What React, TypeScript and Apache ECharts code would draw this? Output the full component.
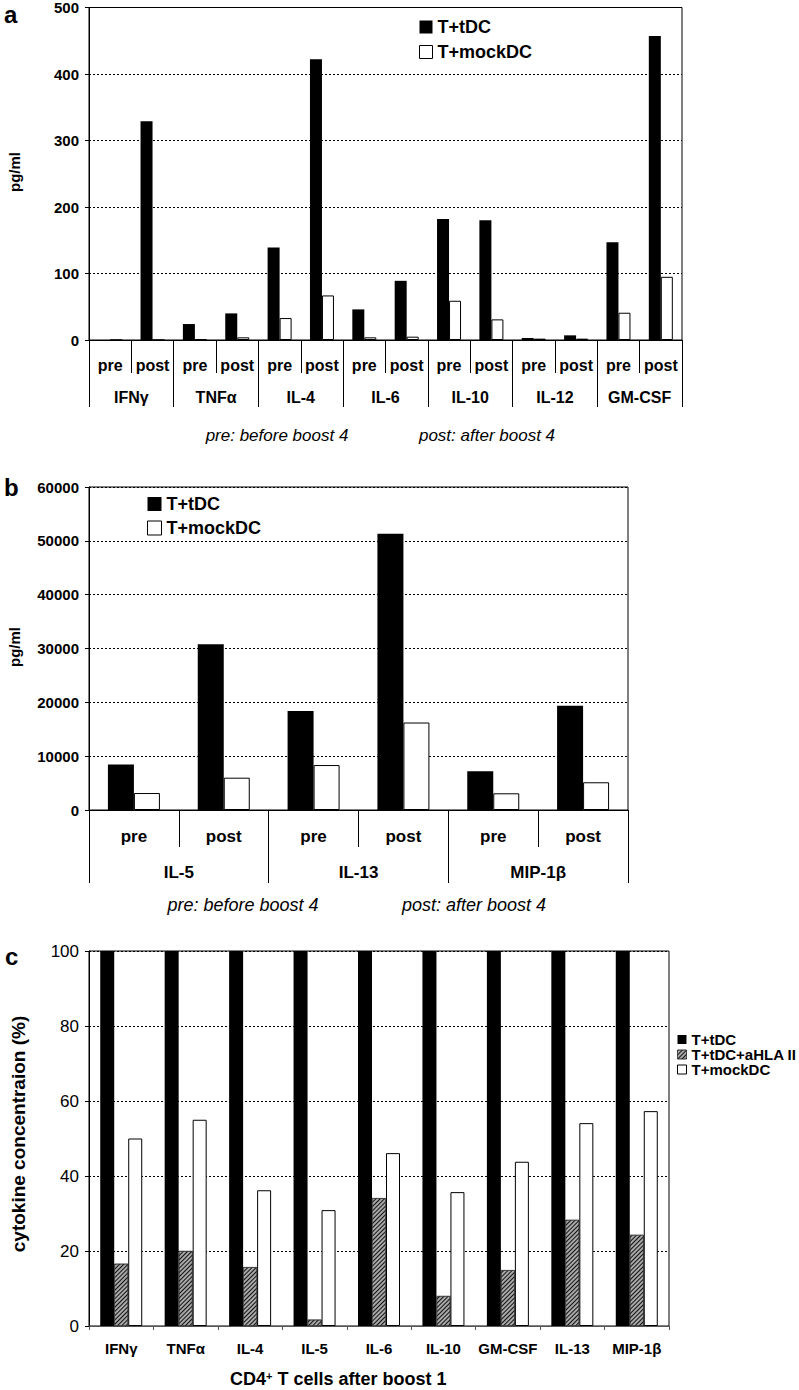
import React, { useEffect, useRef } from "react";
import * as echarts from "echarts";

// ---------- Data ----------
const A_CYTOKINES = ["IFNγ", "TNFα", "IL-4", "IL-6", "IL-10", "IL-12", "GM-CSF"];
const A_PHASES = ["pre", "post", "pre", "post", "pre", "post", "pre", "post", "pre", "post", "pre", "post", "pre", "post"];
const A_TDC = [0, 329, 24, 40, 139, 422, 46, 89, 182, 180, 3, 7, 147, 457];
const A_MOCK = [0, 0, 1, 4, 33, 67, 4, 5, 59, 31, 2, 2, 41, 95];

const B_CYTOKINES = ["IL-5", "IL-13", "MIP-1β"];
const B_PHASES = ["pre", "post", "pre", "post", "pre", "post"];
const B_TDC = [8450, 30800, 18400, 51300, 7200, 19350];
const B_MOCK = [3150, 6000, 8350, 16250, 3100, 5150];

const C_CYTOKINES = ["IFNγ", "TNFα", "IL-4", "IL-5", "IL-6", "IL-10", "GM-CSF", "IL-13", "MIP-1β"];
const C_TDC = [100, 100, 100, 100, 100, 100, 100, 100, 100];
const C_AHLA = [16.6, 20.0, 15.7, 1.7, 34.1, 8.0, 14.9, 28.3, 24.3];
const C_MOCK = [50.0, 55.0, 36.2, 30.9, 46.1, 35.7, 43.8, 54.1, 57.3];

const S_TDC = "T+tDC";
const S_AHLA = "T+tDC+aHLA II";
const S_MOCK = "T+mockDC";

const FONT = '"Liberation Sans", Arial, Helvetica, sans-serif';

const blackStyle = { color: "#000" };
const whiteStyle = { color: "#fff", borderColor: "#000", borderWidth: 1 };
const hatchStyle = {
  color: "#a8a8a8",
  borderColor: "#333",
  borderWidth: 0.6,
  decal: {
    symbol: "rect",
    symbolSize: 1,
    color: "#111",
    dashArrayX: [1, 0],
    dashArrayY: [1, 2],
    rotation: -Math.PI / 4,
  },
};

const gridLine = { show: true, lineStyle: { color: "#000", width: 1, type: [2, 2] as any } };

function valueAxis(gridIndex: number, max: number, interval: number, fontSize: number, weight: string) {
  return {
    type: "value",
    gridIndex,
    min: 0,
    max,
    interval,
    axisLine: { show: true, lineStyle: { color: "#000", width: 1 } },
    axisTick: { show: true, length: 4, lineStyle: { color: "#000" } },
    axisLabel: {
      color: "#000",
      fontSize,
      fontWeight: weight,
      fontFamily: FONT,
      margin: 10,
      formatter: (v: number) => String(v),
    },
    splitLine: gridLine,
  };
}

function catAxis(gridIndex: number, data: string[], tickLen: number, margin: number, fontSize: number, showLine: boolean) {
  return {
    type: "category",
    gridIndex,
    position: "bottom",
    data,
    boundaryGap: true,
    axisLine: { show: showLine, lineStyle: { color: "#000", width: 1 } },
    axisTick: { show: true, length: tickLen, interval: 0, lineStyle: { color: "#000", width: 1 } },
    axisLabel: { interval: 0, color: "#000", fontSize, fontWeight: "bold", fontFamily: FONT, margin },
    splitLine: { show: false },
  };
}

function legendData(names: string[], styles: any[]) {
  return names.map((n, i) => ({ name: n, icon: "rect", itemStyle: styles[i] }));
}

export default function App() {
  const ref = useRef<HTMLDivElement>(null);

  useEffect(() => {
    if (!ref.current) return;
    const chart = echarts.init(ref.current, null, { renderer: "svg" });

    const option: any = {
      animation: false,
      backgroundColor: "#fff",
      textStyle: { fontFamily: FONT },
      grid: [
        { left: 89, top: 6, width: 593, height: 334, show: true, borderColor: "#000", borderWidth: 1, backgroundColor: "transparent" },
        { left: 89, top: 487, width: 539, height: 323, show: true, borderColor: "#000", borderWidth: 1, backgroundColor: "transparent" },
        { left: 89, top: 951, width: 580, height: 375, show: true, borderColor: "#000", borderWidth: 1, backgroundColor: "transparent" },
      ],
      xAxis: [
        catAxis(0, A_PHASES, 33, 17, 16, true),
        catAxis(0, A_CYTOKINES, 67, 49, 16, false),
        catAxis(1, B_PHASES, 37, 18, 17, true),
        catAxis(1, B_CYTOKINES, 73, 54, 17, false),
        {
          ...catAxis(2, C_CYTOKINES, 4, 15, 15, true),
          axisLine: { show: true, lineStyle: { color: "#555", width: 1 } },
          axisTick: { show: true, length: 4, interval: 0, lineStyle: { color: "#555", width: 1 } },
        },
      ],
      yAxis: [
        valueAxis(0, 500, 100, 15, "bold"),
        valueAxis(1, 60000, 10000, 15, "bold"),
        valueAxis(2, 100, 20, 17, "normal"),
      ],
      legend: [
        {
          orient: "vertical",
          left: 419,
          top: 17,
          padding: 0,
          itemWidth: 13,
          itemHeight: 13,
          itemGap: 5,
          selectedMode: false,
          textStyle: { color: "#000", fontSize: 18, fontWeight: "bold", fontFamily: FONT, lineHeight: 20 },
          data: legendData([S_TDC, S_MOCK], [blackStyle, whiteStyle]),
        },
        {
          orient: "vertical",
          left: 147,
          top: 494,
          padding: 0,
          itemWidth: 14,
          itemHeight: 14,
          itemGap: 4,
          selectedMode: false,
          textStyle: { color: "#000", fontSize: 18, fontWeight: "bold", fontFamily: FONT, lineHeight: 20 },
          data: legendData([S_TDC, S_MOCK], [blackStyle, whiteStyle]),
        },
        {
          orient: "vertical",
          left: 677,
          top: 1032,
          padding: 0,
          itemWidth: 9,
          itemHeight: 9,
          itemGap: 0,
          selectedMode: false,
          textStyle: { color: "#000", fontSize: 15, fontWeight: "bold", fontFamily: FONT, lineHeight: 14 },
          data: legendData([S_TDC, S_AHLA, S_MOCK], [blackStyle, hatchStyle, whiteStyle]),
        },
      ],
      series: [
        { type: "bar", name: S_TDC, xAxisIndex: 0, yAxisIndex: 0, data: A_TDC, barWidth: 12, barGap: "0%", itemStyle: blackStyle, silent: true },
        { type: "bar", name: S_MOCK, xAxisIndex: 0, yAxisIndex: 0, data: A_MOCK, barWidth: 12, barGap: "0%", itemStyle: whiteStyle, silent: true },
        { type: "bar", name: S_TDC, xAxisIndex: 2, yAxisIndex: 1, data: B_TDC, barWidth: 26, barGap: "0%", itemStyle: blackStyle, silent: true },
        { type: "bar", name: S_MOCK, xAxisIndex: 2, yAxisIndex: 1, data: B_MOCK, barWidth: 26, barGap: "0%", itemStyle: whiteStyle, silent: true },
        { type: "bar", name: S_TDC, xAxisIndex: 4, yAxisIndex: 2, data: C_TDC, barWidth: 14, barGap: "0%", itemStyle: blackStyle, silent: true },
        { type: "bar", name: S_AHLA, xAxisIndex: 4, yAxisIndex: 2, data: C_AHLA, barWidth: 14, barGap: "0%", itemStyle: hatchStyle, silent: true },
        { type: "bar", name: S_MOCK, xAxisIndex: 4, yAxisIndex: 2, data: C_MOCK, barWidth: 14, barGap: "0%", itemStyle: whiteStyle, silent: true },
      ],
      graphic: [
        { type: "text", x: 4, y: 14, style: { text: "a", fontSize: 24, fontWeight: "bold", fontFamily: FONT, fill: "#000", verticalAlign: "middle" } },
        { type: "text", x: 4, y: 487, style: { text: "b", fontSize: 24, fontWeight: "bold", fontFamily: FONT, fill: "#000", verticalAlign: "middle" } },
        { type: "text", x: 5, y: 956, style: { text: "c", fontSize: 24, fontWeight: "bold", fontFamily: FONT, fill: "#000", verticalAlign: "middle" } },
        { type: "text", x: 14, y: 172, rotation: Math.PI / 2, style: { text: "pg/ml", fontSize: 15, fontWeight: "bold", fontFamily: FONT, fill: "#000", align: "center", verticalAlign: "middle" } },
        { type: "text", x: 14, y: 647, rotation: Math.PI / 2, style: { text: "pg/ml", fontSize: 15, fontWeight: "bold", fontFamily: FONT, fill: "#000", align: "center", verticalAlign: "middle" } },
        { type: "text", x: 18, y: 1134, rotation: Math.PI / 2, style: { text: "cytokine concentraion (%)", fontSize: 19, fontWeight: "bold", fontFamily: FONT, fill: "#000", align: "center", verticalAlign: "middle" } },
        { type: "text", x: 277, y: 435, style: { text: "pre: before boost 4", fontSize: 17, fontStyle: "italic", fontFamily: FONT, fill: "#000", align: "center", verticalAlign: "middle" } },
        { type: "text", x: 487, y: 435, style: { text: "post: after boost 4", fontSize: 17, fontStyle: "italic", fontFamily: FONT, fill: "#000", align: "center", verticalAlign: "middle" } },
        { type: "text", x: 243, y: 905, style: { text: "pre: before boost 4", fontSize: 18, fontStyle: "italic", fontFamily: FONT, fill: "#000", align: "center", verticalAlign: "middle" } },
        { type: "text", x: 474, y: 905, style: { text: "post: after boost 4", fontSize: 18, fontStyle: "italic", fontFamily: FONT, fill: "#000", align: "center", verticalAlign: "middle" } },
        {
          type: "text",
          x: 230,
          y: 1379,
          style: {
            text: "{m|CD4}{s|+}{m| T cells after boost 1}",
            fontFamily: FONT,
            fill: "#000",
            verticalAlign: "middle",
            rich: {
              m: { fontSize: 18, fontWeight: "bold", fontFamily: FONT, fill: "#000", lineHeight: 18 },
              s: { fontSize: 11, fontWeight: "bold", fontFamily: FONT, fill: "#000", verticalAlign: "top", lineHeight: 11 },
            },
          },
        },
      ],
    };

    chart.setOption(option);
    return () => chart.dispose();
  }, []);

  return (
    <div
      ref={ref}
      style={{ position: "absolute", left: 0, top: 0, width: 799, height: 1390, background: "#fff" }}
    />
  );
}
